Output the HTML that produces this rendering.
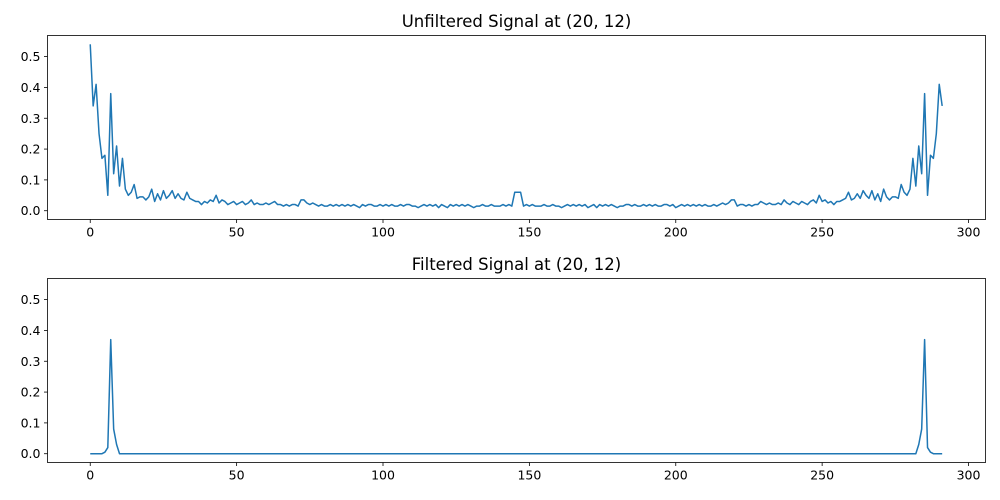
<!DOCTYPE html>
<html><head><meta charset="utf-8"><style>
html,body{margin:0;padding:0;background:#fff;}
svg{display:block;font-family:"DejaVu Sans","Liberation Sans",sans-serif;}
</style></head><body>
<svg id="fig" width="1000" height="500" viewBox="0 0 1000 500"></svg>
<script>
const unfilteredValues = [
.54,.34,.41,.25,.17,.18,.05,.38,.12,.21,
.08,.17,.07,.05,.06,.085,.04,.045,.045,.035,
.045,.07,.03,.055,.035,.065,.04,.05,.065,.04,
.055,.04,.035,.06,.04,.035,.03,.03,.02,.03,
.025,.035,.03,.05,.025,.035,.03,.02,.025,.03,
.02,.025,.03,.02,.025,.035,.02,.025,.02,.02,
.025,.02,.025,.03,.02,.02,.015,.02,.015,.02,
.02,.015,.035,.035,.025,.02,.025,.02,.015,.02,
.015,.015,.02,.015,.02,.015,.02,.015,.02,.015,
.02,.015,.01,.02,.015,.02,.02,.015,.015,.02,
.015,.02,.015,.02,.015,.015,.02,.015,.02,.02,
.015,.015,.01,.015,.02,.015,.02,.015,.02,.01,
.02,.015,.01,.02,.015,.02,.015,.02,.015,.02,
.015,.01,.015,.015,.02,.015,.015,.02,.015,.015,
.015,.02,.015,.02,.015,.06,.06,
.06,.015,.02,.015,.02,
.015,.015,.015,.02,.015,.015,.02,.015,.015,.01,
.015,.02,.015,.02,.015,.02,.015,.02,.01,.015,
.02,.01,.02,.015,.02,.015,.02,.015,.01,.015,
.015,.02,.02,.015,.02,.015,.015,.02,.015,.02,
.015,.02,.015,.015,.02,.02,.015,.02,.01,.015,
.02,.015,.02,.015,.02,.015,.02,.015,.02,.015,
.015,.02,.015,.02,.025,.02,.025,.035,.035,.015,
.02,.02,.015,.02,.015,.02,.02,.03,.025,.02,
.025,.02,.02,.025,.02,.035,.025,.02,.03,.025,
.02,.03,.025,.02,.03,.035,.025,.05,.03,.035,
.025,.03,.02,.03,.03,.035,.04,.06,.035,.04,
.055,.04,.065,.05,.04,.065,.035,.055,.03,.07,
.045,.035,.045,.045,.04,.085,.06,.05,.07,.17,
.08,.21,.12,.38,.05,.18,.17,.25,.41,.34
];
const filteredValues = [
0,0,0,0,0,.005,.02,.37,.08,.03,
0,0,0,0,0,0,0,0,0,0, 0,0,0,0,0,0,0,0,0,0, 0,0,0,0,0,0,0,0,0,0,
0,0,0,0,0,0,0,0,0,0, 0,0,0,0,0,0,0,0,0,0, 0,0,0,0,0,0,0,0,0,0,
0,0,0,0,0,0,0,0,0,0, 0,0,0,0,0,0,0,0,0,0, 0,0,0,0,0,0,0,0,0,0,
0,0,0,0,0,0,0,0,0,0, 0,0,0,0,0,0,0,0,0,0, 0,0,0,0,0,0,0,0,0,0,
0,0,0,0,0,0,0,0,0,0, 0,0,0,0,0,0,0,0,0,0, 0,0,0,0,0,0,0,0,0,0,
0,0,0,0,0,0,0,0,0,0, 0,0,0,0,0,0,0,0,0,0, 0,0,0,0,0,0,0,0,0,0,
0,0,0,0,0,0,0,0,0,0, 0,0,0,0,0,0,0,0,0,0, 0,0,0,0,0,0,0,0,0,0,
0,0,0,0,0,0,0,0,0,0, 0,0,0,0,0,0,0,0,0,0, 0,0,0,0,0,0,0,0,0,0,
0,0,0,0,0,0,0,0,0,0, 0,0,0,0,0,0,0,0,0,0, 0,0,0,0,0,0,0,0,0,0,
0,0,0,.03,.08,.37,.02,.005,0,0,0,0
];
const xTickValues = [0,50,100,150,200,250,300];
const yTickValues = [0.0,0.1,0.2,0.3,0.4,0.5];
const yTickLabels = ["0.0","0.1","0.2","0.3","0.4","0.5"];
const titles = ["Unfiltered Signal at (20, 12)","Filtered Signal at (20, 12)"];

const NS="http://www.w3.org/2000/svg";
const svg=document.getElementById('fig');
function mk(tag,attrs,parent){const e=document.createElementNS(NS,tag);for(const k in attrs)e.setAttribute(k,attrs[k]);(parent||svg).appendChild(e);return e;}
const L=47.5,R=985.5,X0=-14.6,X1=305.8;
const xs=v=>L+(v-X0)/(X1-X0)*(R-L);
function panel(top,bottom,values,title,key){
  const Y0=-0.0285,Y1=0.5685;
  const ys=v=>bottom-(v-Y0)/(Y1-Y0)*(bottom-top);
  const g=mk('g',{});
  
  
  let d='';
  values.forEach((v,i)=>{d+=(i?'L':'M')+xs(i).toFixed(2)+' '+ys(v).toFixed(2);});
  const p=mk('path',{d:d,fill:'none',stroke:'#1f77b4','stroke-width':1.5,'stroke-linejoin':'round'},g);
  
  
  const fr=mk('rect',{x:L,y:top,width:R-L,height:bottom-top,fill:'none',stroke:'#000','stroke-width':0.8},g);
  
  
  xTickValues.forEach(t=>{
    const x=xs(t);
    mk('line',{x1:x,x2:x,y1:bottom,y2:bottom+3.5,stroke:'#000','stroke-width':0.8},g);
    const tx=mk('text',{x:x,y:bottom+17,'text-anchor':'middle','font-size':12.5,fill:'#000'},g);
    tx.textContent=String(t);
    
    
  });
  yTickValues.forEach((t,i)=>{
    const y=ys(t);
    mk('line',{x1:L,x2:L-3.5,y1:y,y2:y,stroke:'#000','stroke-width':0.8},g);
    const tx=mk('text',{x:L-7,y:y+4.5,'text-anchor':'end','font-size':12.5,fill:'#000'},g);
    tx.textContent=yTickLabels[i];
    
    
  });
  const tt=mk('text',{x:(L+R)/2,y:top-8.5,'text-anchor':'middle','font-size':16.5,fill:'#000'},g);
  tt.textContent=title;
  
  
}
panel(35.5,219.5,unfilteredValues,titles[0],'unfiltered');
panel(278.5,462.5,filteredValues,titles[1],'filtered');
</script>
</body></html>
